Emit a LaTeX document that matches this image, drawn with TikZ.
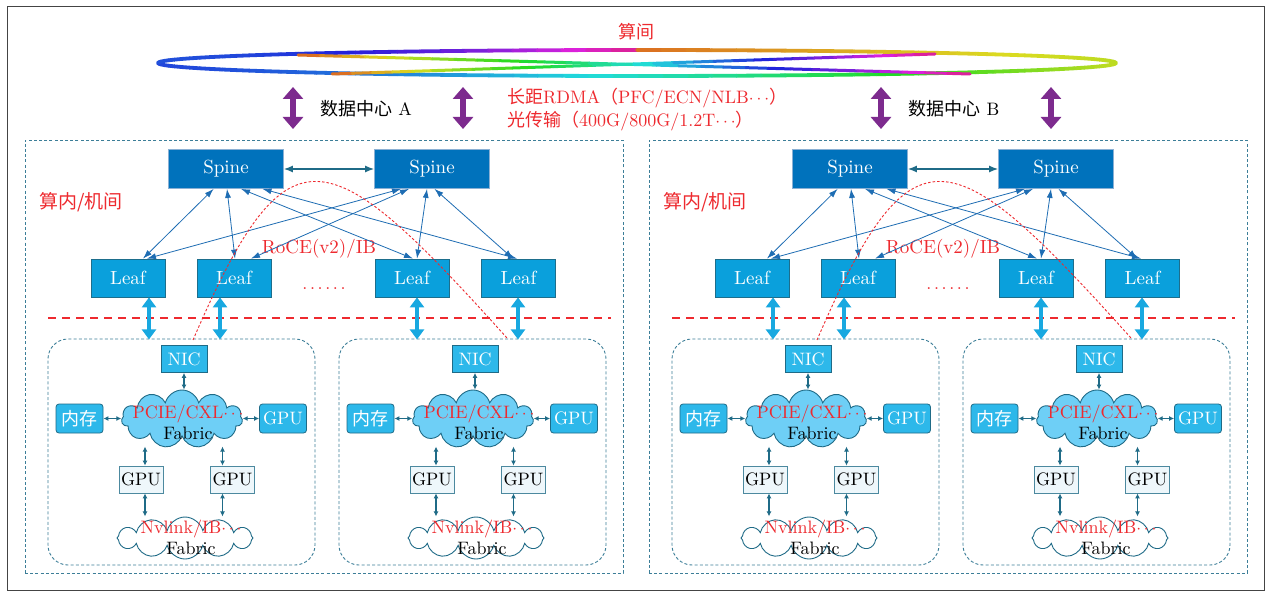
\documentclass[tikz,border=0pt]{standalone}
\usepackage{fontspec}
\setmainfont{lmroman10-regular.otf}[BoldFont=lmroman10-bold.otf, ItalicFont=lmroman10-italic.otf]
\newfontfamily\cjk{Noto Sans CJK SC}
\usetikzlibrary{arrows.meta,shapes.symbols}
\newcommand\zh[1]{{\cjk #1}}
\definecolor{spineC}{HTML}{0072BC}
\definecolor{spineB}{HTML}{8AB0D4}
\definecolor{leafC}{HTML}{0AA0DC}
\definecolor{leafB}{HTML}{1D6E8C}
\definecolor{cyanC}{HTML}{2DB8EA}
\definecolor{tealB}{HTML}{1F6B87}
\definecolor{gpuF}{HTML}{EEF7FB}
\definecolor{cloudF}{HTML}{6ECFF6}
\definecolor{linkC}{HTML}{1E6DB3}
\definecolor{dashC}{HTML}{3C7E98}
\definecolor{redC}{HTML}{EE2A2F}
\definecolor{cyanA}{HTML}{18A8E0}
\definecolor{purpC}{HTML}{7D2B8E}
\definecolor{frameC}{HTML}{444444}
\tikzset{
 base/.style={draw, line width=0.8pt, inner sep=0pt, font=\fontsize{18}{21}\selectfont},
 spinebox/.style={base, fill=spineC, draw=spineB, text=white, minimum width=115pt, minimum height=39pt, font=\fontsize{19}{21}\selectfont},
 leafbox/.style={base, fill=leafC, draw=leafB, text=white, minimum width=74pt, minimum height=38pt, font=\fontsize{19}{21}\selectfont},
 cyanbox/.style={base, fill=cyanC, draw=tealB, text=white, minimum width=46pt, minimum height=27pt},
 cyanround/.style={cyanbox, rounded corners=3pt, minimum width=47pt, minimum height=29pt},
 gpubox/.style={base, fill=gpuF, draw=tealB!80, text=black, minimum width=44pt, minimum height=27pt},
 cloudA/.style={cloud, cloud puffs=11, aspect=2.1, draw=tealB, fill=cloudF, line width=0.9pt, minimum width=121pt, minimum height=58pt, inner sep=0pt},
 cloudB/.style={cloudA, fill=white, minimum width=136pt, minimum height=42pt, aspect=3.3, cloud puffs=12},
 txt/.style={inner sep=0pt, font=\fontsize{18}{21}\selectfont, align=center},
 redtxt/.style={txt, text=redC},
 srvbox/.style={draw=dashC, dash pattern=on 3pt off 2.2pt, line width=0.9pt, rounded corners=20pt, minimum width=267pt, minimum height=226pt},
 dcbox/.style={draw=dashC, dash pattern=on 3pt off 2.2pt, line width=0.9pt, inner sep=0pt, minimum width=598pt, minimum height=433pt},
 sl/.style={draw=linkC, line width=0.8pt, {Latex[length=9pt,width=6pt]}-{Latex[length=9pt,width=6pt]}},
 ss/.style={draw=tealB, line width=1.3pt, {Latex[length=9pt,width=7pt]}-{Latex[length=9pt,width=7pt]}},
 sa/.style={draw=tealB, line width=1.2pt, {Latex[length=5pt,width=5pt]}-{Latex[length=5pt,width=5pt]}},
 cyanarrow/.style={draw=cyanA, line width=3.5pt, {Triangle[length=10pt,width=14pt]}-{Triangle[length=10pt,width=14pt]}},
 purparrow/.style={draw=purpC, line width=6pt, {Triangle[length=12pt,width=20pt]}-{Triangle[length=12pt,width=20pt]}},
 reddash/.style={draw=redC, line width=2.2pt, dash pattern=on 8pt off 6pt},
 redcurve/.style={draw=redC, line width=0.9pt, dash pattern=on 2.5pt off 2pt},
}
\newcommand\srvunit[2]{%
 \begin{scope}[xshift=#2pt, name prefix=#1-]
  \node[srvbox] (box) at (181.5,452) {};
  \node[cyanbox] (nic) at (184,359) {NIC};
  \node[cyanround] (mem) at (79.5,418.5) {\zh{内存}};
  \node[cyanround] (gpur) at (283,418.5) {GPU};
  \node[cloudA] (cl1) at (182,419) {};
  \node[txt] (t1) at (188,422) {\textcolor{redC}{PCIE/CXL$\cdots$}\\Fabric};
  \node[gpubox] (g1) at (141,479.5) {GPU};
  \node[gpubox] (g2) at (232.5,479.5) {GPU};
  \node[cloudB] (cl2) at (185,538) {};
  \node[txt] (t2) at (191,537) {\textcolor{redC}{Nvlink/IB$\cdots$}\\Fabric};
  \draw[sa] (nic.south) -- (nic.south |- cl1.north);
  \draw[sa] (mem.east) -- (mem.east -| cl1.west);
  \draw[sa] (gpur.west) -- (gpur.west -| cl1.east);
  \draw[sa] ([xshift=4pt]g1.north) -- ++(0,-19);
  \draw[sa] ([xshift=-10pt]g2.north) -- ++(0,-19);
  \draw[sa] ([xshift=4pt]g1.south) -- ++(0,23);
  \draw[sa] ([xshift=-10pt]g2.south) -- ++(0,23);
 \end{scope}}
\newcommand\dcunit[2]{%
 \begin{scope}[xshift=#2pt, name prefix=#1-]
  \node[dcbox] (dc) at (324,356.5) {};
  \node[spinebox] (s1) at (226,169) {Spine};
  \node[spinebox] (s2) at (432,169) {Spine};
  \node[leafbox] (l1) at (128,278) {Leaf};
  \node[leafbox] (l2) at (234,278) {Leaf};
  \node[leafbox] (l3) at (412,278) {Leaf};
  \node[leafbox] (l4) at (518.5,278) {Leaf};
  \node[redtxt, font=\fontsize{19}{21}\selectfont] (lab) at (81,202) {\zh{算内/机间}};
  \node[redtxt, font=\fontsize{19}{21}\selectfont] (roce) at (319,249) {RoCE(v2)/IB};
  \node[redtxt, anchor=base] (dots) at (324,290) {.\kern2.6pt.\kern2.6pt.\kern2.6pt.\kern2.6pt.\kern2.6pt.};
  \draw[ss] (s1.east) -- (s2.west);
  \draw[sl] ([xshift=-12.4pt]s1.south) -- ([xshift=15pt]l1.north);
  \draw[sl] ([xshift=1pt]s1.south) -- ([xshift=1pt]l2.north);
  \draw[sl] ([xshift=15pt]s1.south) -- ([xshift=1pt]l3.north);
  \draw[sl] ([xshift=36.5pt]s1.south) -- ([xshift=-1.5pt]l4.north);
  \draw[sl] ([xshift=-31pt]s2.south) -- ([xshift=19pt]l1.north);
  \draw[sl] ([xshift=-23pt]s2.south) -- ([xshift=17pt]l2.north);
  \draw[sl] ([xshift=-5pt]s2.south) -- ([xshift=5pt]l3.north);
  \draw[sl] ([xshift=2.5pt]s2.south) -- ([xshift=-5.5pt]l4.north);
  \draw[reddash] (48,318) -- (611,318);
  \srvunit{#1-S1}{0}
  \srvunit{#1-S2}{291}
  \draw[cyanarrow] ([xshift=21pt]l1.south) -- ++(0,42);
  \draw[cyanarrow] ([xshift=-14pt]l2.south) -- ++(0,42);
  \draw[cyanarrow] ([xshift=5pt]l3.south) -- ++(0,42);
  \draw[cyanarrow] ([xshift=-0.5pt]l4.south) -- ++(0,42);
  \coordinate (rc1) at (193,340);
  \coordinate (rc2) at (507,338);
  \draw[redcurve] (rc1) .. controls (288,120) and (327,138) .. (rc2);
 \end{scope}}
\begin{document}
\begin{tikzpicture}[x=1pt,y=-1pt]
\useasboundingbox (0,0) rectangle (1272,596);
\fill[white] (0,0) rectangle (1272,596);
\draw[frameC, line width=1pt] (7,7) rectangle (1264.5,590.5);
% rainbow ellipse
\foreach \a in {0,3,...,357}{
  \pgfmathsetmacro\uu{0.5+0.5*cos(\a+1.5)}
  \pgfmathsetmacro\ss{sin(\a+1.5)}
  \pgfmathsetmacro\hh{\ss<0 ? (\uu<0.5 ? 225+400*\uu*\uu : 25+90*(\uu-0.5)) : 228-160*\uu*sqrt(\uu)}
  \definecolor{rbow}{Hsb}{\hh,0.85,0.86}
  \draw[rbow, line width=3.8pt, line cap=round] ({637+479*cos(\a)},{63+13*sin(\a)}) -- ({637+479*cos(\a+3)},{63+13*sin(\a+3)});
}
\foreach \i in {0,...,29}{
  \pgfmathsetmacro\hh{25+295/29*\i}
  \definecolor{rbow}{Hsb}{\hh,0.85,0.86}
  \draw[rbow, line width=3pt, line cap=round] ({298+22.4*\i},{55+19/30*\i}) -- ({298+22.4*(\i+1)},{55+19/30*(\i+1)});
  \draw[rbow, line width=3pt, line cap=round] ({332+20.1*\i},{74-20/30*\i}) -- ({332+20.1*(\i+1)},{74-20/30*(\i+1)});
}
\node[redtxt, font=\fontsize{18}{21}\selectfont] (suanjian) at (636,32) {\zh{算间}};
% purple arrows
\coordinate (p1a) at (293,87); \coordinate (p1b) at (293,129);
\coordinate (p2a) at (463,87); \coordinate (p2b) at (463,129);
\coordinate (p3a) at (881,87); \coordinate (p3b) at (881,129);
\coordinate (p4a) at (1051,87); \coordinate (p4b) at (1051,129);
\draw[purparrow] (p1a) -- (p1b);
\draw[purparrow] (p2a) -- (p2b);
\draw[purparrow] (p3a) -- (p3b);
\draw[purparrow] (p4a) -- (p4b);
\node[txt] (dca) at (366,109) {\zh{数据中心} A};
\node[txt] (dcb) at (954,109) {\zh{数据中心} B};
\node[redtxt, anchor=west, align=left, font=\fontsize{18}{23}\selectfont] (rdma) at (507,110)
  {\zh{长距}RDMA\zh{（}PFC/ECN/NLB$\cdots$\zh{）}\\\zh{光传输（}400G/800G/1.2T$\cdots$\zh{）}};
\dcunit{A}{0}
\dcunit{B}{624}
\end{tikzpicture}
\end{document}
